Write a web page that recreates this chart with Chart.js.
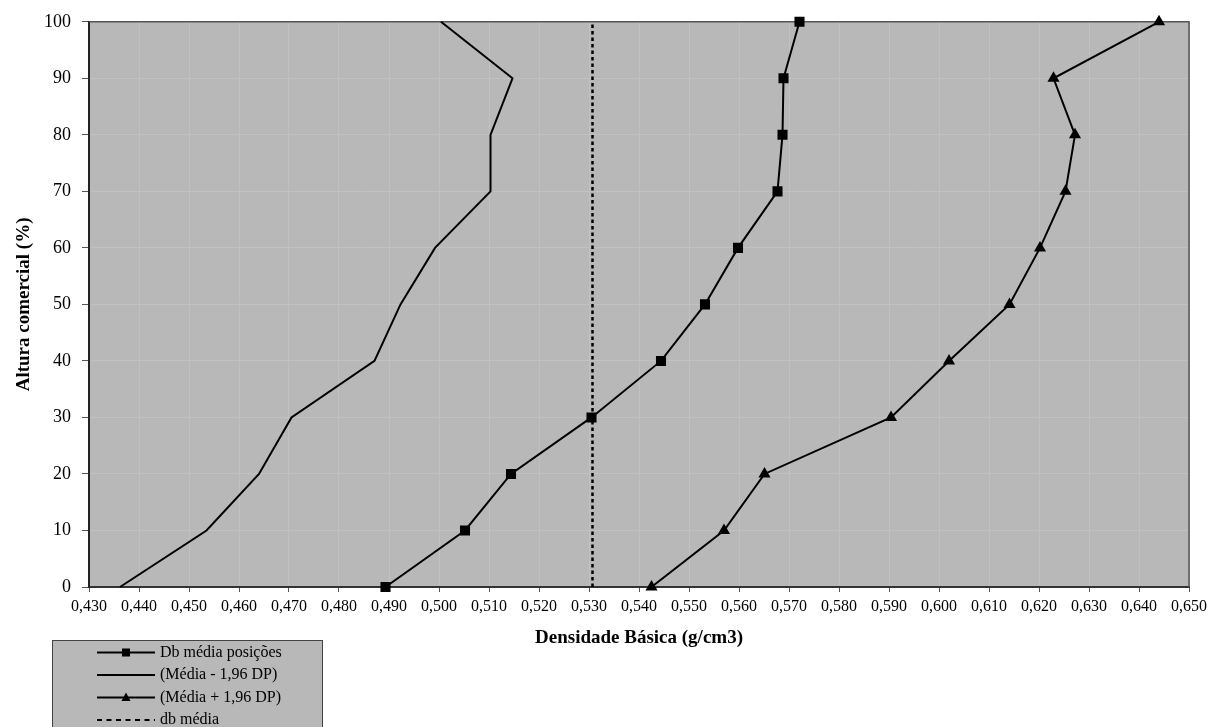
<!DOCTYPE html>
<html>
<head>
<meta charset="utf-8">
<script src="https://cdn.jsdelivr.net/npm/chart.js@4"></script>
<style>
  html, body { margin: 0; padding: 0; background: #fff; }
  #wrap { width: 1215px; height: 727px; }
</style>
</head>
<body>
<div id="wrap"><canvas id="chart" width="1215" height="727"></canvas></div>
<script>
// altura comercial (%)
const alturas = [0, 10, 20, 30, 40, 50, 60, 70, 80, 90, 100]
// densidade basica (g/cm3)
const dbMediaPosicoes = [0.4893, 0.5052, 0.5144, 0.5305, 0.5444, 0.5532, 0.5598, 0.5677, 0.5687, 0.5689, 0.5721]
const mediaMenos = [0.4362, 0.4535, 0.4640, 0.4705, 0.4871, 0.4923, 0.4992, 0.5103, 0.5103, 0.5147, 0.5004]
const mediaMais = [0.5425, 0.5570, 0.5651, 0.5904, 0.6020, 0.6141, 0.6202, 0.6253, 0.6272, 0.6229, 0.6440]
const dbMedia = 0.5307

const xMin = 0.43, xMax = 0.65, xStep = 0.01
const yMin = 0, yMax = 100, yStep = 10

const plotBg = '#b8b8b8'
const gridColor = '#c1c1c1'
const serif = '"Liberation Serif", "Times New Roman", serif'

const toPoints = (xs) => xs.map((x, i) => ({ x: x, y: alturas[i] }))

const plotFrame = {
  id: 'plotFrame',
  beforeDraw(chart) {
    const { ctx, chartArea: a } = chart
    ctx.save()
    ctx.fillStyle = plotBg
    ctx.fillRect(a.left, a.top, a.right - a.left, a.bottom - a.top)
    ctx.restore()
  },
  beforeDatasetsDraw(chart) {
    const { ctx, chartArea: a } = chart
    ctx.save()
    ctx.strokeStyle = '#555'
    ctx.lineWidth = 1.5
    ctx.beginPath()
    ctx.moveTo(a.left, a.top)
    ctx.lineTo(a.right, a.top)
    ctx.lineTo(a.right, a.bottom)
    ctx.stroke()
    ctx.restore()
  }
}

// legend box in the bottom-left corner, like the original
const boxLegend = {
  id: 'boxLegend',
  afterDraw(chart) {
    const ctx = chart.ctx
    const left = 52, top = 640, right = 322
    ctx.save()
    ctx.fillStyle = plotBg
    ctx.fillRect(left, top, right - left, 100)
    ctx.strokeStyle = '#444'
    ctx.lineWidth = 1
    ctx.strokeRect(left + 0.5, top + 0.5, right - left, 100)

    ctx.font = '16px ' + serif
    ctx.textBaseline = 'middle'
    ctx.textAlign = 'left'
    chart.data.datasets.forEach((ds, i) => {
      const y = 652.5 + i * 22.5
      ctx.strokeStyle = '#000'
      ctx.lineWidth = 2
      ctx.setLineDash(ds.borderDash ? [5, 4.5] : [])
      ctx.beginPath()
      ctx.moveTo(97, y)
      ctx.lineTo(155, y)
      ctx.stroke()
      ctx.setLineDash([])
      ctx.fillStyle = '#000'
      if (ds.pointStyle === 'rect' && ds.pointRadius > 0) {
        ctx.fillRect(122, y - 4, 8, 8)
      } else if (ds.pointStyle === 'triangle' && ds.pointRadius > 0) {
        ctx.beginPath()
        ctx.moveTo(126, y - 5)
        ctx.lineTo(130.5, y + 3.5)
        ctx.lineTo(121.5, y + 3.5)
        ctx.closePath()
        ctx.fill()
      }
      ctx.fillText(ds.label, 160, y)
    })
    ctx.restore()
  }
}

new Chart(document.getElementById('chart'), {
  type: 'line',
  data: {
    datasets: [
      {
        label: 'Db média posições',
        data: toPoints(dbMediaPosicoes),
        borderColor: '#000',
        backgroundColor: '#000',
        borderWidth: 2,
        pointStyle: 'rect',
        pointRadius: 5.7,
        tension: 0,
        clip: false
      },
      {
        label: '(Média - 1,96 DP)',
        data: toPoints(mediaMenos),
        borderColor: '#000',
        borderWidth: 2,
        pointRadius: 0,
        tension: 0,
        clip: false
      },
      {
        label: '(Média + 1,96 DP)',
        data: toPoints(mediaMais),
        borderColor: '#000',
        backgroundColor: '#000',
        borderWidth: 2,
        pointStyle: 'triangle',
        pointRadius: 5,
        tension: 0,
        clip: false
      },
      {
        label: 'db média',
        data: [{ x: dbMedia, y: yMin }, { x: dbMedia, y: yMax }],
        borderColor: '#000',
        borderWidth: 2.5,
        borderDash: [3.5, 3],
        pointRadius: 0,
        tension: 0
      }
    ]
  },
  options: {
    responsive: false,
    animation: false,
    layout: {
      padding: { left: 0, top: 19, right: 26, bottom: 79 }
    },
    plugins: {
      legend: { display: false },
      title: { display: false },
      tooltip: { enabled: false }
    },
    scales: {
      x: {
        type: 'linear',
        min: xMin,
        max: xMax,
        afterFit: (scale) => { scale.height = 61 },
        ticks: {
          stepSize: xStep,
          padding: 7,
          color: '#000',
          font: { family: serif, size: 16, lineHeight: 1 },
          maxRotation: 0,
          autoSkip: false,
          callback: (v) => v.toFixed(3).replace('.', ',')
        },
        grid: { color: gridColor, tickColor: '#555', tickLength: 5 },
        border: { color: '#333', width: 2 },
        title: {
          display: true,
          text: 'Densidade Básica (g/cm3)',
          color: '#000',
          padding: { top: 0, bottom: 0 },
          font: { family: serif, size: 19, weight: 'bold', lineHeight: 1 }
        }
      },
      y: {
        min: yMin,
        max: yMax,
        afterFit: (scale) => { scale.width = 89 },
        ticks: {
          stepSize: yStep,
          padding: 11,
          color: '#000',
          font: { family: serif, size: 18 }
        },
        grid: { color: gridColor, tickColor: '#555', tickLength: 7 },
        border: { color: '#222', width: 2 },
        title: {
          display: true,
          text: 'Altura comercial (%)',
          color: '#000',
          padding: { top: 15, bottom: 0 },
          font: { family: serif, size: 19, weight: 'bold', lineHeight: 1 }
        }
      }
    }
  },
  plugins: [plotFrame, boxLegend]
})
</script>
</body>
</html>
